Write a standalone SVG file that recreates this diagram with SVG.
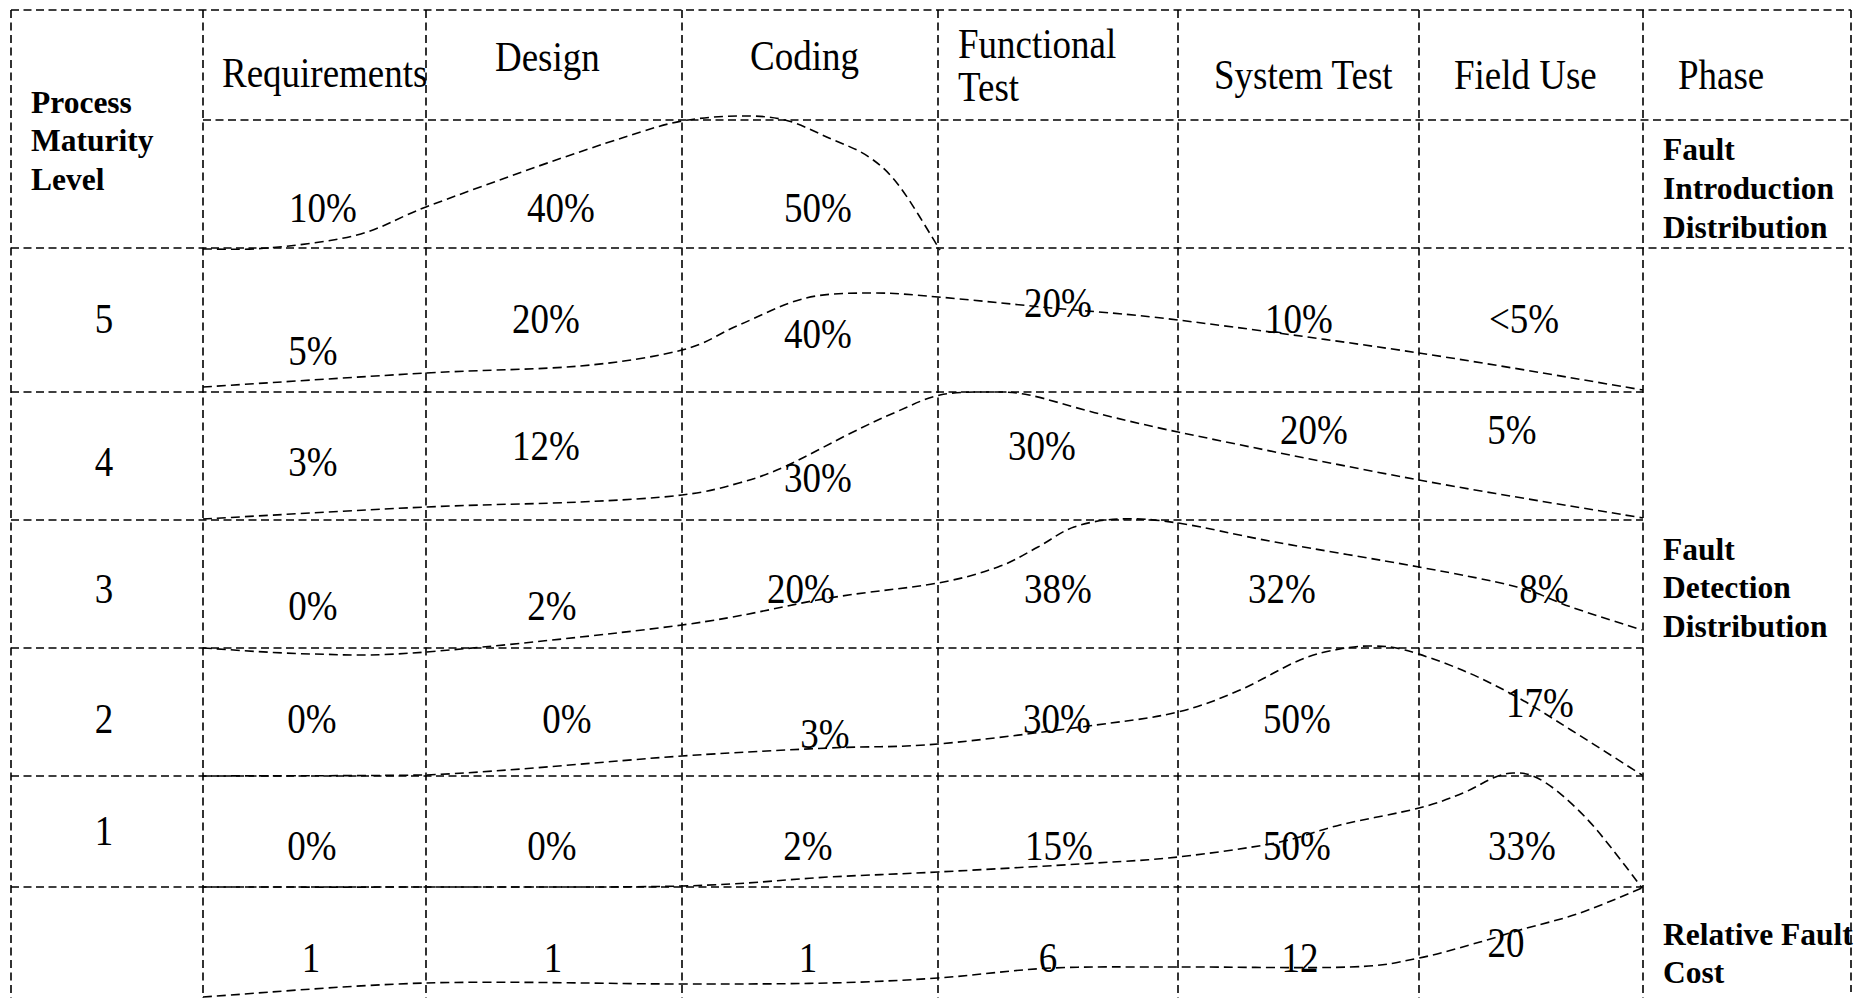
<svg xmlns="http://www.w3.org/2000/svg" width="1866" height="998" viewBox="0 0 1866 998">
<style>
.g{stroke:#000;stroke-width:1.6;stroke-dasharray:8 4.5;fill:none}
.c{stroke:#000;stroke-width:1.6;stroke-dasharray:9 5;fill:none}
.t{font-family:"Liberation Serif","Times New Roman",serif;font-size:37px;fill:#000}
.m{text-anchor:middle}
.b{font-family:"Liberation Serif","Times New Roman",serif;font-size:31.5px;font-weight:bold;fill:#000}
</style>
<rect x="0" y="0" width="1866" height="998" fill="#fff"/>
<g id="grid">
<path class="g" d="M11,10V998M203,10V998M426,10V998M682,10V998M938,10V998M1178,10V998M1419,10V998M1643,10V998M1851,10V992"/>
<path class="g" d="M11,10H1851M203,120H1851M11,248H1851M11,392H1643M11,520H1643M11,648H1643M11,776H1643M11,887H1643"/>
</g>
<g id="connectors">
<path id="curve-intro" class="c" d="M203,249 C213.8,248.8 242.3,250.3 268,248 C293.7,245.7 330.7,241.8 357,235 C383.3,228.2 396.2,218.3 426,207 C455.8,195.7 502.8,178.7 536,167 C569.2,155.3 600.7,144.7 625,137 C649.3,129.3 663,124.5 682,121 C701,117.5 721.8,116.2 739,116 C756.2,115.8 770,116.3 785,120 C800,123.7 815,131.8 829,138 C843,144.2 857.2,148.8 869,157 C880.8,165.2 888.2,171.5 900,187 C911.8,202.5 933.3,239.5 940,250"/>
<path id="curve-l5" class="c" d="M203,387 C240.2,384.7 363.2,376.5 426,373 C488.8,369.5 537.3,369.8 580,366 C622.7,362.2 655.5,356.8 682,350 C708.5,343.2 718.3,333.7 739,325 C759.7,316.3 783.7,303.3 806,298 C828.3,292.7 851,293.2 873,293 C895,292.8 908.2,294.5 938,297 C967.8,299.5 1012,304.2 1052,308 C1092,311.8 1116.8,312.5 1178,320 C1239.2,327.5 1341.5,341.3 1419,353 C1496.5,364.7 1605.7,383.8 1643,390"/>
<path id="curve-l4" class="c" d="M203,519 C240.2,517 363.2,509.8 426,507 C488.8,504.2 537.3,504 580,502 C622.7,500 655.5,498.2 682,495 C708.5,491.8 722,487.7 739,483 C756,478.3 765.3,475.3 784,467 C802.7,458.7 832.3,442.2 851,433 C869.7,423.8 881.2,418.3 896,412 C910.8,405.7 924.5,398.3 940,395 C955.5,391.7 974.2,392 989,392 C1003.8,392 1011.2,391.5 1029,395 C1046.8,398.5 1071.2,406.8 1096,413 C1120.8,419.2 1151.2,426.5 1178,432 C1256.3,448.3 1341.5,465.7 1419,480 C1496.5,494.3 1605.7,511.7 1643,518"/>
<path id="curve-l3" class="c" d="M203,648 C221.2,649 274.8,653.3 312,654 C349.2,654.7 364.3,656.8 426,652 C487.7,647.2 614.8,634 682,625 C749.2,616 786.3,605 829,598 C871.7,591 909.8,588.2 938,583 C966.2,577.8 981.3,573 998,567 C1014.7,561 1025.3,553.7 1038,547 C1050.7,540.3 1060.3,531.7 1074,527 C1087.7,522.3 1102.7,519.7 1120,519 C1137.3,518.3 1152.2,519.2 1178,523 C1203.8,526.8 1234.8,534.7 1275,542 C1315.2,549.3 1378.7,559.5 1419,567 C1459.3,574.5 1491.7,580.3 1517,587 C1542.3,593.7 1550.2,599.8 1571,607 C1591.8,614.2 1630.2,626.2 1642,630"/>
<path id="curve-l2" class="c" d="M203,776 C240.2,775.8 346,776 426,775 C505.8,771.7 614.8,760.5 682,756 C749.2,751.5 786.3,750 829,748 C871.7,746 893.5,747.8 938,744 C982.5,740.2 1056,730.3 1096,725 C1136,719.7 1154,717.8 1178,712 C1202,706.2 1219.7,698.7 1240,690 C1260.3,681.3 1283.3,666.8 1300,660 C1316.7,653.2 1328,651.3 1340,649 C1352,646.7 1361.2,645.8 1372,646 C1382.8,646.2 1390,646 1405,650 C1420,654 1443.3,662.2 1462,670 C1480.7,677.8 1498.8,687 1517,697 C1535.2,707 1550.2,717 1571,730 C1591.8,743 1630.2,767.5 1642,775"/>
<path id="curve-l1" class="c" d="M203,887 C240.2,887 346.2,887.2 426,887 C505.8,886.8 614.8,887.7 682,886 C749.2,884.3 786.3,879.3 829,877 C871.7,874.7 893.5,874.3 938,872 C982.5,869.7 1056,865.5 1096,863 C1136,860.5 1148.2,860.3 1178,857 C1207.8,853.7 1248,848.3 1275,843 C1302,837.7 1316,830.8 1340,825 C1364,819.2 1398.5,813.3 1419,808 C1439.5,802.7 1450.7,798 1463,793 C1475.3,788 1484.7,781.3 1493,778 C1501.3,774.7 1506.3,773.3 1513,773 C1519.7,772.7 1525.7,773 1533,776 C1540.3,779 1548,783.8 1557,791 C1566,798.2 1577.7,809.2 1587,819 C1596.3,828.8 1603.8,838.5 1613,850 C1622.2,861.5 1637.2,881.7 1642,888"/>
<path id="curve-cost" class="c" d="M203,997 C240.2,994.7 346.2,985.2 426,983 C505.8,980.8 614.8,984 682,984 C749.2,984 786.3,984 829,983 C871.7,982 900.8,980.5 938,978 C975.2,975.5 1012,969.8 1052,968 C1092,966.2 1128.3,967.2 1178,967 C1227.7,966.8 1309.8,968.5 1350,967 C1390.2,965.5 1397.3,962.2 1419,958 C1440.7,953.8 1463.2,946.7 1480,942 C1496.8,937.3 1503.3,934.8 1520,930 C1536.7,925.2 1559.7,920 1580,913 C1600.3,906 1631.7,892.2 1642,888"/>
</g>
<g id="header">
<g id="h-pml"><text class="b" x="31" y="113">Process</text><text class="b" x="31" y="151">Maturity</text><text class="b" x="31" y="190">Level</text></g>
<g id="h-req"><text class="t" transform="translate(222,87) scale(1,1.12)">Requirements</text></g>
<g id="h-design"><text class="t" transform="translate(495,71) scale(1,1.12)">Design</text></g>
<g id="h-coding"><text class="t" transform="translate(750,70) scale(1,1.12)">Coding</text></g>
<g id="h-func"><text class="t" transform="translate(958,58) scale(1,1.12)">Functional</text><text class="t" transform="translate(958,101) scale(1,1.12)">Test</text></g>
<g id="h-sys"><text class="t" transform="translate(1214,89) scale(1,1.12)">System Test</text></g>
<g id="h-field"><text class="t" transform="translate(1454,89) scale(1,1.12)">Field Use</text></g>
<g id="h-phase"><text class="t" transform="translate(1678,89) scale(1,1.12)">Phase</text></g>
</g>
<g id="row-intro">
<text class="t m" transform="translate(323,222) scale(1,1.12)">10%</text><text class="t m" transform="translate(561,222) scale(1,1.12)">40%</text><text class="t m" transform="translate(818,222) scale(1,1.12)">50%</text>
<g id="lbl-intro"><text class="b" x="1663" y="160">Fault</text><text class="b" x="1663" y="199">Introduction</text><text class="b" x="1663" y="238">Distribution</text></g>
</g>
<g id="row-5">
<text class="t m" transform="translate(104,333) scale(1,1.12)">5</text><text class="t m" transform="translate(313,365) scale(1,1.12)">5%</text><text class="t m" transform="translate(546,333) scale(1,1.12)">20%</text><text class="t m" transform="translate(818,348) scale(1,1.12)">40%</text><text class="t m" transform="translate(1058,317) scale(1,1.12)">20%</text><text class="t m" transform="translate(1299,333) scale(1,1.12)">10%</text><text class="t m" transform="translate(1524,333) scale(1,1.12)">&lt;5%</text>
</g>
<g id="row-4">
<text class="t m" transform="translate(104,476) scale(1,1.12)">4</text><text class="t m" transform="translate(313,476) scale(1,1.12)">3%</text><text class="t m" transform="translate(546,460) scale(1,1.12)">12%</text><text class="t m" transform="translate(818,492) scale(1,1.12)">30%</text><text class="t m" transform="translate(1042,460) scale(1,1.12)">30%</text><text class="t m" transform="translate(1314,444) scale(1,1.12)">20%</text><text class="t m" transform="translate(1512,444) scale(1,1.12)">5%</text>
</g>
<g id="row-3">
<text class="t m" transform="translate(104,603) scale(1,1.12)">3</text><text class="t m" transform="translate(313,620) scale(1,1.12)">0%</text><text class="t m" transform="translate(552,620) scale(1,1.12)">2%</text><text class="t m" transform="translate(801,603) scale(1,1.12)">20%</text><text class="t m" transform="translate(1058,603) scale(1,1.12)">38%</text><text class="t m" transform="translate(1282,603) scale(1,1.12)">32%</text><text class="t m" transform="translate(1544,603) scale(1,1.12)">8%</text>
</g>
<g id="lbl-detect"><text class="b" x="1663" y="560">Fault</text><text class="b" x="1663" y="598">Detection</text><text class="b" x="1663" y="637">Distribution</text></g>
<g id="row-2">
<text class="t m" transform="translate(104,733) scale(1,1.12)">2</text><text class="t m" transform="translate(312,733) scale(1,1.12)">0%</text><text class="t m" transform="translate(567,733) scale(1,1.12)">0%</text><text class="t m" transform="translate(825,748) scale(1,1.12)">3%</text><text class="t m" transform="translate(1057,733) scale(1,1.12)">30%</text><text class="t m" transform="translate(1297,733) scale(1,1.12)">50%</text><text class="t m" transform="translate(1540,717) scale(1,1.12)">17%</text>
</g>
<g id="row-1">
<text class="t m" transform="translate(104,845) scale(1,1.12)">1</text><text class="t m" transform="translate(312,860) scale(1,1.12)">0%</text><text class="t m" transform="translate(552,860) scale(1,1.12)">0%</text><text class="t m" transform="translate(808,860) scale(1,1.12)">2%</text><text class="t m" transform="translate(1059,860) scale(1,1.12)">15%</text><text class="t m" transform="translate(1297,860) scale(1,1.12)">50%</text><text class="t m" transform="translate(1522,860) scale(1,1.12)">33%</text>
</g>
<g id="row-cost">
<text class="t m" transform="translate(311,972) scale(1,1.12)">1</text><text class="t m" transform="translate(553,972) scale(1,1.12)">1</text><text class="t m" transform="translate(808,972) scale(1,1.12)">1</text><text class="t m" transform="translate(1048,972) scale(1,1.12)">6</text><text class="t m" transform="translate(1300,972) scale(1,1.12)">12</text><text class="t m" transform="translate(1506,957) scale(1,1.12)">20</text>
<g id="lbl-cost"><text class="b" x="1663" y="945">Relative Fault</text><text class="b" x="1663" y="983">Cost</text></g>
</g>
</svg>
